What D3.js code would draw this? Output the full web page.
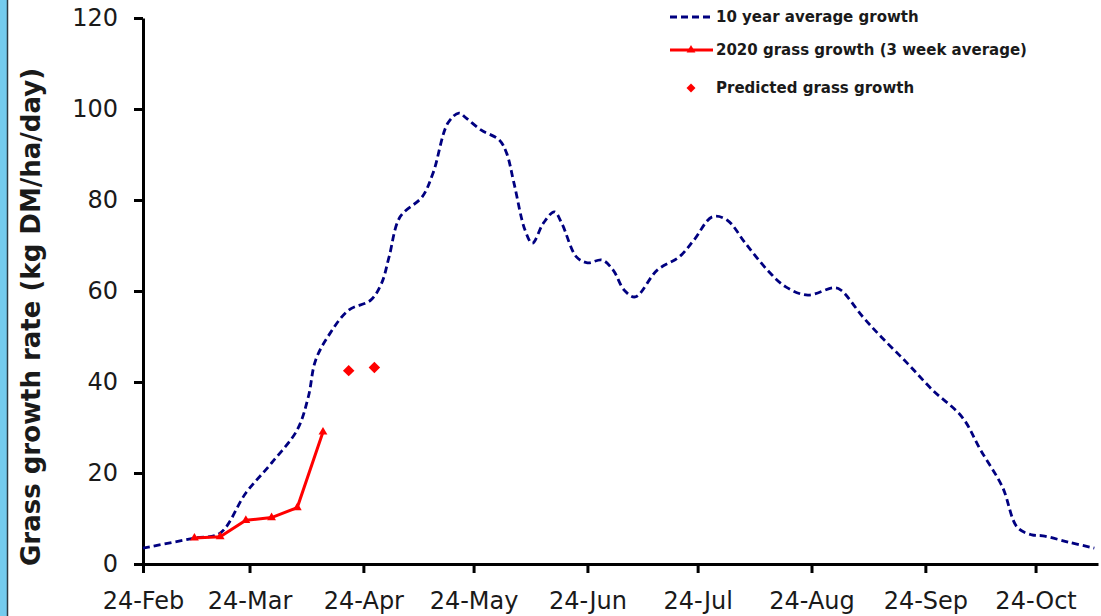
<html>
<head>
<meta charset="utf-8">
<title>Grass growth</title>
<style>
  body { margin: 0; background: #ffffff; }
  svg { display: block; }
  .tick text { font-family: 'DejaVu Sans', Verdana, sans-serif; fill: #1a1a1a; }
  .legend text { font-family: 'DejaVu Sans', Verdana, sans-serif; font-weight: bold; font-size: 15px; fill: #1a1a1a; }
</style>
</head>
<body>
<div id="chart"></div>
<script src="https://cdnjs.cloudflare.com/ajax/libs/d3/7.8.5/d3.min.js"></script>
<script>
// 10 year average growth
const avgDates = ["2020-02-24","2020-03-09","2020-03-16","2020-03-23","2020-03-30","2020-04-06","2020-04-09","2020-04-11",
  "2020-04-15","2020-04-20","2020-04-26","2020-04-29","2020-05-01","2020-05-04","2020-05-10","2020-05-13","2020-05-17",
  "2020-05-20","2020-05-22","2020-05-26","2020-05-31","2020-06-02","2020-06-04","2020-06-07","2020-06-09","2020-06-12",
  "2020-06-15","2020-06-17","2020-06-21","2020-06-24","2020-06-28","2020-07-01","2020-07-04","2020-07-07","2020-07-13",
  "2020-07-19","2020-07-23","2020-07-28","2020-08-01","2020-08-06","2020-08-12","2020-08-17","2020-08-23","2020-08-30",
  "2020-09-01","2020-09-07","2020-09-12","2020-09-19","2020-09-26","2020-10-04","2020-10-09","2020-10-15","2020-10-19",
  "2020-10-23","2020-10-26","2020-11-02","2020-11-09"]
const avgValues = [3.5, 5.7, 6.8, 15.6, 22.2, 29.5, 36.7, 44.8,
  50.8, 55.8, 58.0, 61.8, 67.5, 76.3, 80.7, 86.0, 96.9,
  99.1, 98.0, 95.4, 93.2, 90.3, 83.7, 73.4, 70.5, 74.9,
  77.4, 74.9, 67.5, 66.2, 66.8, 64.6, 60.2, 58.7, 64.6,
  67.5, 71.2, 76.3, 75.6, 70.5, 64.6, 60.9, 59.1, 60.7,
  60.2, 54.3, 49.9, 44.2, 38.2, 32.3, 25.1, 16.9, 8.1,
  6.4, 6.2, 4.8, 3.5]

// 2020 grass growth (3 week average)
const actualDates = ["2020-03-09","2020-03-16","2020-03-23","2020-03-30","2020-04-06","2020-04-13"]
const actualValues = [5.7, 6.0, 9.6, 10.2, 12.4, 29.0]

// Predicted grass growth
const predDates = ["2020-04-20","2020-04-27"]
const predValues = [42.5, 43.2]

const yTicks = [0, 20, 40, 60, 80, 100, 120]
const xTickDates = ["2020-02-24","2020-03-24","2020-04-24","2020-05-24","2020-06-24","2020-07-24","2020-08-24","2020-09-24","2020-10-24"]

const legendLabels = ["10 year average growth", "2020 grass growth (3 week average)", "Predicted grass growth"]

const width = 1101
const height = 616
const parse = d3.utcParse("%Y-%m-%d")

const svg = d3.select("#chart").append("svg")
  .attr("width", width)
  .attr("height", height)

// left border strip
svg.append("rect").attr("x", 0).attr("y", 0).attr("width", 7).attr("height", height).attr("fill", "#74cbee")
svg.append("line").attr("x1", 7.5).attr("x2", 7.5).attr("y1", 0).attr("y2", height).attr("stroke", "#2b3a44").attr("stroke-width", 1.5)

const x = d3.scaleUtc()
  .domain([parse("2020-02-24"), parse("2020-11-10")])
  .range([143, 1098])

const y = d3.scaleLinear()
  .domain([0, 120])
  .range([564, 18])

// axes
const xAxis = svg.append("g")
  .attr("transform", "translate(0,564)")
  .call(d3.axisBottom(x)
    .tickValues(xTickDates.map(parse))
    .tickFormat(d3.utcFormat("%d-%b"))
    .tickSize(9).tickSizeOuter(0).tickPadding(19))
xAxis.select(".domain").attr("stroke", "#000").attr("stroke-width", 3)
xAxis.selectAll(".tick line").attr("stroke", "#000").attr("stroke-width", 3)
xAxis.selectAll(".tick text").attr("font-size", 24)

const yAxis = svg.append("g")
  .attr("transform", "translate(143,0)")
  .call(d3.axisLeft(y).tickValues(yTicks).tickSize(9).tickSizeOuter(0).tickPadding(16))
yAxis.select(".domain").attr("stroke", "#000").attr("stroke-width", 3)
yAxis.selectAll(".tick line").attr("stroke", "#000").attr("stroke-width", 3)
yAxis.selectAll(".tick text").attr("font-size", 24)

svg.append("text")
  .attr("transform", "translate(40,317) rotate(-90)")
  .attr("text-anchor", "middle")
  .attr("font-family", "'DejaVu Sans', Verdana, sans-serif")
  .attr("font-weight", "bold")
  .attr("font-size", 26)
  .attr("fill", "#1a1a1a")
  .text("Grass growth rate (kg DM/ha/day)")

// 10 year average
const avgData = avgDates.map((d, i) => ({ date: parse(d), value: avgValues[i] }))
const line = d3.line()
  .x(d => x(d.date))
  .y(d => y(d.value))
  .curve(d3.curveCatmullRom.alpha(0.5))

svg.append("path")
  .datum(avgData)
  .attr("fill", "none")
  .attr("stroke", "#000080")
  .attr("stroke-width", 2.8)
  .attr("stroke-dasharray", "7,4")
  .attr("d", line)

// 2020 actual
const actualData = actualDates.map((d, i) => ({ date: parse(d), value: actualValues[i] }))
svg.append("path")
  .datum(actualData)
  .attr("fill", "none")
  .attr("stroke", "#ff0000")
  .attr("stroke-width", 3)
  .attr("d", d3.line().x(d => x(d.date)).y(d => y(d.value)))

const tri = d3.symbol().type(d3.symbolTriangle).size(34)
svg.selectAll(".tri")
  .data(actualData)
  .join("path")
  .attr("class", "tri")
  .attr("transform", d => `translate(${x(d.date)},${y(d.value)})`)
  .attr("d", tri)
  .attr("fill", "#ff0000")

// predicted
const predData = predDates.map((d, i) => ({ date: parse(d), value: predValues[i] }))
const diamond = d3.symbol().type(d3.symbolSquare).size(66)
svg.selectAll(".pred")
  .data(predData)
  .join("path")
  .attr("class", "pred")
  .attr("transform", d => `translate(${x(d.date)},${y(d.value)}) rotate(45)`)
  .attr("d", diamond)
  .attr("fill", "#ff0000")

// legend
const legend = svg.append("g").attr("class", "legend")
const rowY = [17, 50, 88]

legend.append("line").attr("x1", 670).attr("x2", 713).attr("y1", rowY[0]).attr("y2", rowY[0])
  .attr("stroke", "#000080").attr("stroke-width", 2.8).attr("stroke-dasharray", "7,4")
legend.append("line").attr("x1", 670).attr("x2", 713).attr("y1", rowY[1]).attr("y2", rowY[1])
  .attr("stroke", "#ff0000").attr("stroke-width", 3)
legend.append("path").attr("transform", `translate(691,${rowY[1]})`).attr("d", tri).attr("fill", "#ff0000")
legend.append("path").attr("transform", `translate(691,${rowY[2]}) rotate(45)`).attr("d", d3.symbol().type(d3.symbolSquare).size(40)).attr("fill", "#ff0000")

legend.selectAll("text")
  .data(legendLabels)
  .join("text")
  .attr("x", 716)
  .attr("y", (d, i) => rowY[i])
  .attr("dy", "0.36em")
  .text(d => d)
</script>
</body>
</html>
